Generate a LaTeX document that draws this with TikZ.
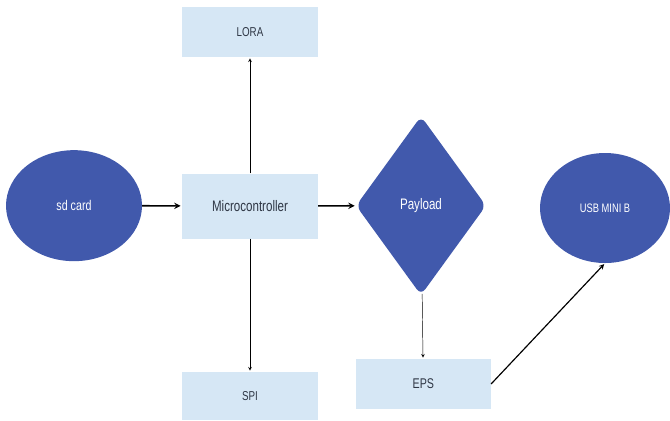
\documentclass[tikz,border=0pt]{standalone}
\usepackage{fontspec}
\setmainfont{Liberation Sans}[FakeStretch=0.76]
\usepackage{xcolor}
\usepackage{tikz}
\usetikzlibrary{shapes,arrows,positioning,calc,arrows.meta}
\definecolor{boxblue}{HTML}{D6E7F5}
\definecolor{shapeblue}{HTML}{4159AC}
\definecolor{labelgray}{HTML}{2E3644}
\tikzstyle{arrow} = [->, >=stealth, thin, shorten >=1pt]
\tikzstyle{thickarrow} = [->, >=stealth, line width=1.4pt, shorten >=1pt]
\tikzstyle{block} = [rectangle, fill=boxblue, text=labelgray, minimum width=4.08cm, font=\fontsize{11}{13}\selectfont]
\tikzstyle{blob} = [ellipse, fill=shapeblue, text=white, inner sep=0pt, font=\fontsize{12}{14}\selectfont]

\begin{document}
\begin{tikzpicture}
    \useasboundingbox (0,0) rectangle (20.1,-12.6);
    \clip (0,0) rectangle (20.1,-12.6);

    % Blocks
    \node[block, minimum height=1.5cm] (lora) at (7.5,-0.96) {LORA};
    \node[block, minimum height=1.95cm, font=\fontsize{13}{15}\selectfont] (micro) at (7.5,-6.18) {Microcontroller};
    \node[block, minimum height=1.44cm] (spi) at (7.5,-11.88) {SPI};
    \node[block, minimum width=4.05cm, minimum height=1.5cm, font=\fontsize{12}{14}\selectfont] (eps) at (12.7,-11.52) {EPS};

    % Round shapes
    \node[blob, minimum width=4.08cm, minimum height=3.33cm] (sdcard) at (2.22,-6.17) {sd card};
    \node[blob, minimum width=3.9cm, minimum height=3.3cm, font=\fontsize{10.5}{12}\selectfont] (usb) at (18.15,-6.24) {USB MINI B};

    % Payload
    \node[diamond, fill=shapeblue, text=white, inner sep=0pt, rounded corners=6pt,
          minimum width=3.9cm, minimum height=5.37cm, font=\fontsize{13}{15}\selectfont] (payload) at (12.63,-6.17) {Payload};

    % Connections
    \draw[thickarrow] (sdcard) -- (micro);
    \draw[thickarrow] (micro) -- (payload);
    \draw[arrow] (micro) -- (lora);
    \draw[arrow] (micro) -- (spi);
    \draw[arrow] (payload) -- (eps);
    \draw[arrow, line width=1pt] (eps.east) -- (usb.south);
\end{tikzpicture}
\end{document}
